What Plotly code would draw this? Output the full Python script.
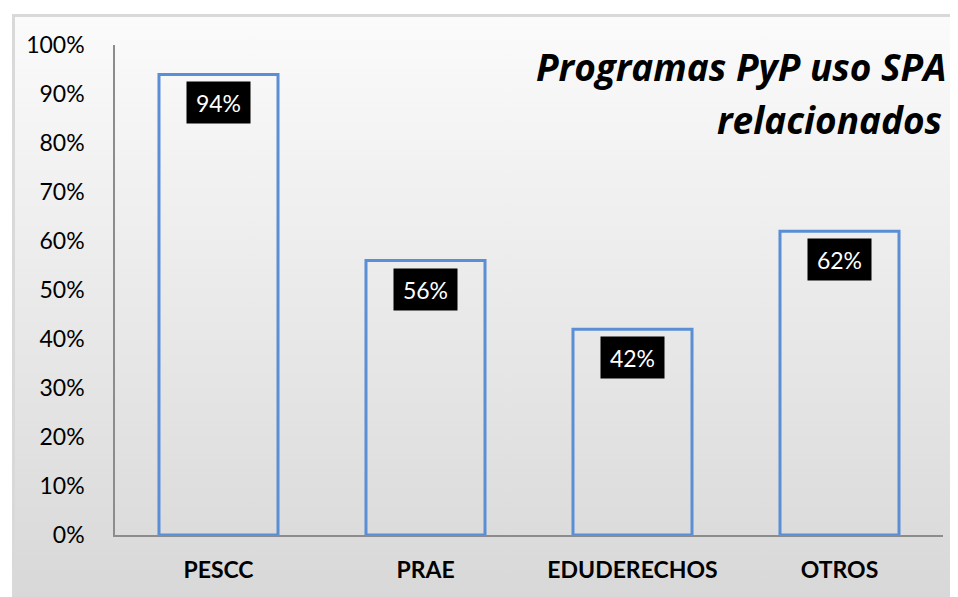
import base64
from plotly import graph_objs as go

categories = ["PESCC", "PRAE", "EDUDERECHOS", "OTROS"]
values = [0.94, 0.56, 0.42, 0.62]
labels = ["94%", "56%", "42%", "62%"]
title_lines = ["Programas PyP uso SPA", "relacionados"]

FONT = "Lato"
TITLE_FONT = "Open Sans"
BLUE = "#5A8FD6"
AXIS = "#8C8C8C"

# the page body has an 8px margin, so the figure is placed 8px in from the window corner
OFF = 8
W, H = 958 - OFF, 597 - OFF
L, R, T, B = 115 - OFF, 15, 45 - OFF, 62
pw, ph = W - L - R, H - T - B

def px_x(x):
    # screen pixel -> paper coordinate
    return (x - OFF - L) / pw

def px_y(y):
    return (H - B - (y - OFF)) / ph

# gradient background of the chart frame (svg as data uri)
fw, fh = 958 - 12, 597 - 14
svg = ('<svg xmlns="http://www.w3.org/2000/svg" width="%d" height="%d" viewBox="0 0 %d %d" preserveAspectRatio="none">'
       '<defs><linearGradient id="g" x1="0" y1="0" x2="0" y2="1">'
       '<stop offset="0" stop-color="#FBFBFB"/><stop offset="1" stop-color="#D8D8D8"/>'
       '</linearGradient></defs>'
       '<rect x="0" y="0" width="%d" height="%d" fill="url(#g)"/>'
       '<rect x="1.5" y="1.5" width="%d" height="%d" fill="none" stroke="#D9D9D9" stroke-width="3"/>'
       '</svg>') % (fw, fh, fw, fh, fw, fh, fw + 20, fh + 20)
bg_src = "data:image/svg+xml;base64," + base64.b64encode(svg.encode()).decode()

data = [
    go.Bar(
        x=categories,
        y=values,
        marker=dict(color="rgba(0,0,0,0)", line=dict(color=BLUE, width=3)),
        width=0.575,
        hoverinfo="x+y",
    )
]

annotations = []
for cat, val, lab in zip(categories, values, labels):
    annotations.append(dict(
        x=cat, y=val, xref="x", yref="y",
        text=lab, showarrow=False,
        yanchor="top", yshift=-7,
        bgcolor="black",
        width=51, height=29, borderpad=6,
        font=dict(family=FONT, size=23, color="white"),
    ))

# title, right aligned (kept inside the visible page width)
annotations.append(dict(
    x=px_x(948), y=px_y(67), xref="paper", yref="paper",
    xanchor="right", yanchor="middle", showarrow=False,
    text=title_lines[0],
    font=dict(family=TITLE_FONT, size=37, color="black", weight="bold", style="italic"),
))
annotations.append(dict(
    x=px_x(944), y=px_y(119), xref="paper", yref="paper",
    xanchor="right", yanchor="middle", showarrow=False,
    text=title_lines[1],
    font=dict(family=TITLE_FONT, size=37, color="black", weight="bold", style="italic"),
))

layout = go.Layout(
    width=W,
    height=H,
    showlegend=False,
    paper_bgcolor="white",
    plot_bgcolor="rgba(0,0,0,0)",
    margin=dict(l=L, r=R, t=T, b=B),
    font=dict(family=FONT, color="black"),
    xaxis=dict(
        showline=True, linecolor=AXIS, linewidth=1.5,
        showgrid=False, ticks="",
        tickfont=dict(family=FONT, size=23, weight="bold", color="black"),
        ticklabelstandoff=14,
    ),
    yaxis=dict(
        range=[0, 1], dtick=0.1, tickformat=".0%",
        showline=True, linecolor=AXIS, linewidth=1.5,
        showgrid=False, zeroline=False, ticks="",
        tickfont=dict(family=FONT, size=23, color="black"),
        ticklabelstandoff=24,
    ),
    annotations=annotations,
    images=[dict(
        source=bg_src, xref="paper", yref="paper",
        x=px_x(12), y=px_y(14),
        sizex=fw / pw, sizey=fh / ph,
        xanchor="left", yanchor="top",
        sizing="stretch", layer="below",
    )],
)

fig = go.Figure(data=data, layout=layout)
fig.write_html("out.html")
